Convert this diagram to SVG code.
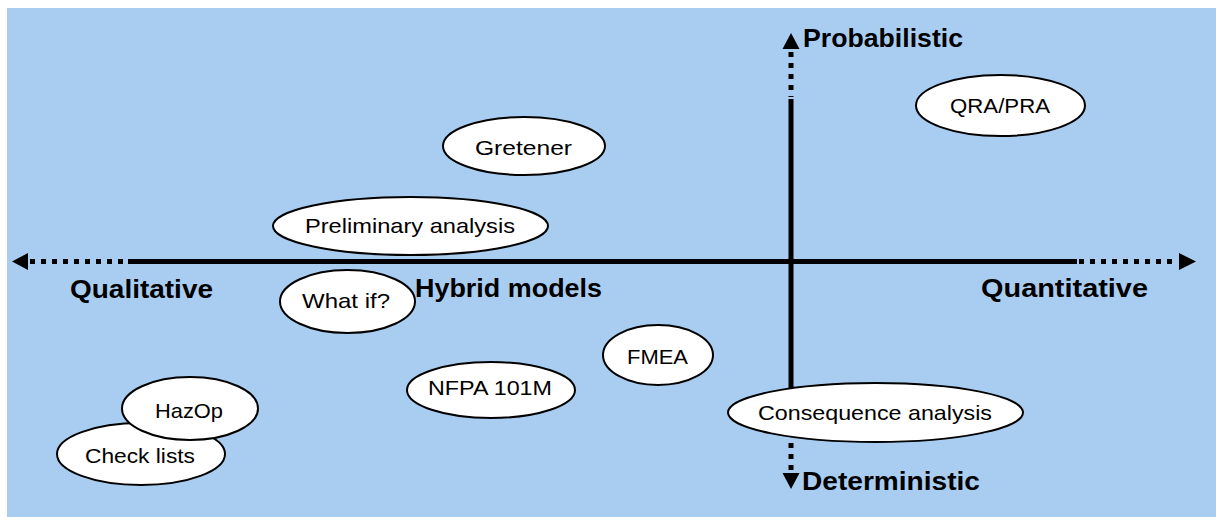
<svg xmlns="http://www.w3.org/2000/svg" width="1216" height="517" viewBox="0 0 1216 517">
  <style>
    .node ellipse { fill: #ffffff; stroke: #000000; stroke-width: 2; }
    .node text { font-family: "Liberation Sans", Arial, sans-serif; font-size: 21px; fill: #000000; text-anchor: start; }
    .axis-label { font-family: "Liberation Sans", Arial, sans-serif; font-size: 26px; font-weight: bold; fill: #000000; }
    .solid { stroke: #000000; stroke-width: 5; fill: none; }
    .dotted { stroke: #000000; stroke-width: 5; fill: none; stroke-dasharray: 5 6; }
    .head { fill: #000000; stroke: none; }
  </style>

  <!-- backdrop -->
  <rect x="7" y="8" width="1209" height="509" fill="#A9CDF0"/>

  <!-- axes -->
  <g id="connectors">
    <!-- horizontal: qualitative <-> quantitative -->
    <line class="dotted" x1="30" y1="261.5" x2="130" y2="261.5"/>
    <line class="solid" x1="128" y1="261.5" x2="1077" y2="261.5"/>
    <line class="dotted" x1="1079" y1="261.5" x2="1176" y2="261.5"/>
    <polygon class="head" points="12,261.5 28,253 28,270"/>
    <polygon class="head" points="1196,261.5 1179,253 1179,270"/>
    <!-- vertical: probabilistic <-> deterministic -->
    <line class="dotted" x1="791" y1="52" x2="791" y2="97"/>
    <line class="solid" x1="791" y1="99" x2="791" y2="400"/>
    <line class="dotted" x1="791" y1="443" x2="791" y2="471"/>
    <polygon class="head" points="791,33 782.5,49 799.5,49"/>
    <polygon class="head" points="791,489 782.5,473 799.5,473"/>
  </g>

  <!-- axis labels -->
  <text class="axis-label" x="803" y="47" textLength="160" lengthAdjust="spacingAndGlyphs">Probabilistic</text>
  <text class="axis-label" x="802" y="490" textLength="178" lengthAdjust="spacingAndGlyphs">Deterministic</text>
  <text class="axis-label" x="70" y="298" textLength="143" lengthAdjust="spacingAndGlyphs">Qualitative</text>
  <text class="axis-label" x="415" y="297" textLength="187" lengthAdjust="spacingAndGlyphs">Hybrid models</text>
  <text class="axis-label" x="981" y="297" textLength="167" lengthAdjust="spacingAndGlyphs">Quantitative</text>

  <!-- methods -->
  <g id="qra-pra" class="node">
    <ellipse cx="1000.5" cy="105.5" rx="84.5" ry="30.5"/>
    <text x="950" y="113" textLength="100" lengthAdjust="spacingAndGlyphs">QRA/PRA</text>
  </g>
  <g id="gretener" class="node">
    <ellipse cx="524" cy="146" rx="81" ry="29"/>
    <text x="475" y="155" textLength="97" lengthAdjust="spacingAndGlyphs">Gretener</text>
  </g>
  <g id="preliminary-analysis" class="node">
    <ellipse cx="410.5" cy="226" rx="137.5" ry="29"/>
    <text x="305" y="233" textLength="210" lengthAdjust="spacingAndGlyphs">Preliminary analysis</text>
  </g>
  <g id="what-if" class="node">
    <ellipse cx="347.5" cy="301.5" rx="67.5" ry="31.5"/>
    <text x="302" y="308" textLength="88" lengthAdjust="spacingAndGlyphs">What if?</text>
  </g>
  <g id="fmea" class="node">
    <ellipse cx="658" cy="355" rx="55" ry="30"/>
    <text x="627" y="364" textLength="61" lengthAdjust="spacingAndGlyphs">FMEA</text>
  </g>
  <g id="nfpa-101m" class="node">
    <ellipse cx="491" cy="390" rx="84" ry="28"/>
    <text x="428" y="395" textLength="124" lengthAdjust="spacingAndGlyphs">NFPA 101M</text>
  </g>
  <g id="consequence-analysis" class="node">
    <ellipse cx="875.5" cy="412.5" rx="147.5" ry="29.5"/>
    <text x="758" y="420" textLength="234" lengthAdjust="spacingAndGlyphs">Consequence analysis</text>
  </g>
  <g id="check-lists" class="node">
    <ellipse cx="141" cy="454" rx="84" ry="31"/>
    <text x="85" y="463" textLength="110" lengthAdjust="spacingAndGlyphs">Check lists</text>
  </g>
  <g id="hazop" class="node">
    <ellipse cx="190" cy="408.5" rx="68" ry="31.5"/>
    <text x="155" y="418" textLength="68" lengthAdjust="spacingAndGlyphs">HazOp</text>
  </g>
</svg>
